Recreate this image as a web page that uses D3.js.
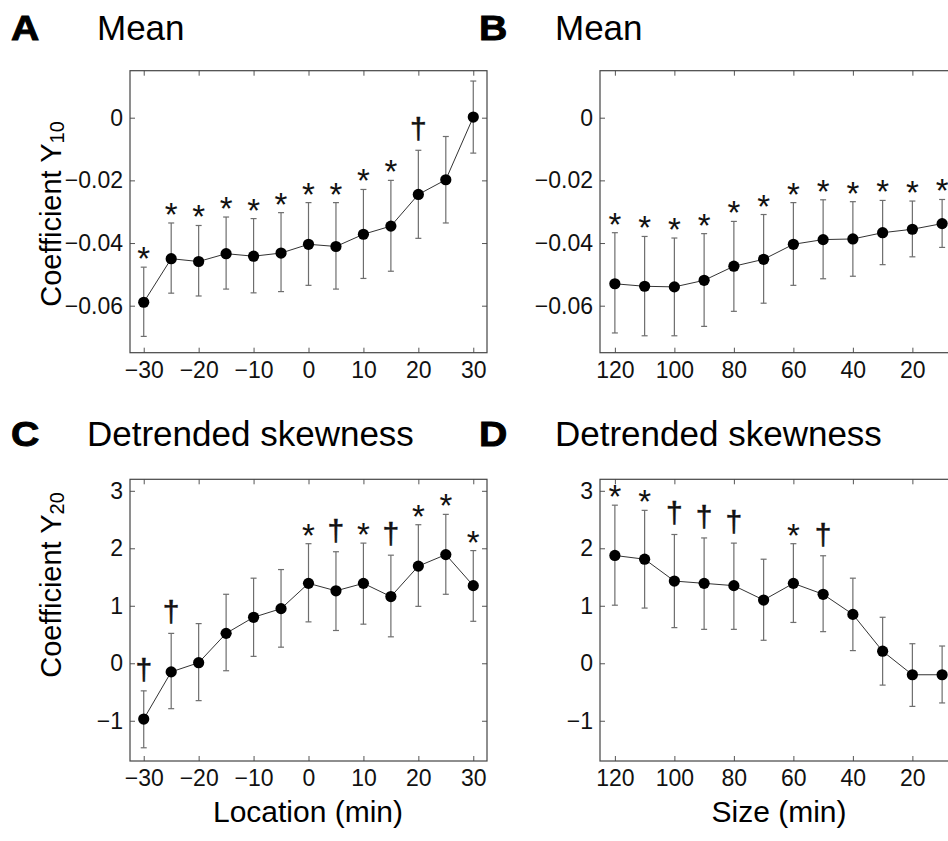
<!DOCTYPE html>
<meta charset="utf-8">
<script src="https://d3js.org/d3.v7.min.js"></script>
<style>
body { margin: 0; background: #fff; }
text { font-family: "Liberation Sans", Arial, sans-serif; }
</style>
<div id="fig"></div>
<script>

// x positions
var locX  = [-30, -25, -20, -15, -10, -5, 0, 5, 10, 15, 20, 25, 30];
var sizeX = [120, 110, 100, 90, 80, 70, 60, 50, 40, 30, 20, 10];

// A: mean vs location
var meanLoc   = [-0.0589, -0.0450, -0.0459, -0.0434, -0.0442, -0.0432, -0.0404, -0.0411, -0.0372, -0.0346, -0.0245, -0.0198, 0.0002];
var meanLocHi = [-0.0477, -0.0336, -0.0344, -0.0317, -0.0322, -0.0303, -0.0271, -0.0271, -0.0229, -0.0200, -0.0104, -0.0060, 0.0117];
var meanLocLo = [-0.0698, -0.0560, -0.0569, -0.0547, -0.0559, -0.0555, -0.0535, -0.0547, -0.0513, -0.0490, -0.0385, -0.0336, -0.0113];
var meanLocSig = ["*", "*", "*", "*", "*", "*", "*", "*", "*", "*", "†", "", ""];

// B: mean vs size
var meanSize   = [-0.0530, -0.0538, -0.0540, -0.0519, -0.0474, -0.0452, -0.0404, -0.0389, -0.0387, -0.0367, -0.0356, -0.0338];
var meanSizeHi = [-0.0367, -0.0379, -0.0384, -0.0370, -0.0331, -0.0309, -0.0271, -0.0262, -0.0268, -0.0264, -0.0266, -0.0261];
var meanSizeLo = [-0.0687, -0.0696, -0.0696, -0.0666, -0.0618, -0.0592, -0.0535, -0.0514, -0.0506, -0.0469, -0.0444, -0.0414];
var meanSizeSig = ["*", "*", "*", "*", "*", "*", "*", "*", "*", "*", "*", "*"];

// C: detrended skewness vs location
var skewLoc   = [-0.97, -0.15, 0.01, 0.52, 0.80, 0.95, 1.39, 1.26, 1.39, 1.16, 1.69, 1.89, 1.35];
var skewLocHi = [-0.48, 0.52, 0.69, 1.20, 1.48, 1.63, 2.08, 1.94, 2.09, 1.88, 2.41, 2.59, 1.96];
var skewLocLo = [-1.47, -0.79, -0.65, -0.13, 0.12, 0.28, 0.72, 0.57, 0.68, 0.46, 0.99, 1.20, 0.73];
var skewLocSig = ["†", "†", "", "", "", "", "*", "†", "*", "†", "*", "*", "*"];

// D: detrended skewness vs size
var skewSize   = [1.875, 1.81, 1.43, 1.39, 1.35, 1.10, 1.39, 1.20, 0.85, 0.21, -0.20, -0.20];
var skewSizeHi = [2.75, 2.66, 2.24, 2.18, 2.09, 1.81, 2.08, 1.87, 1.48, 0.80, 0.34, 0.30];
var skewSizeLo = [1.01, 0.96, 0.62, 0.59, 0.59, 0.40, 0.71, 0.55, 0.22, -0.38, -0.75, -0.69];
var skewSizeSig = ["*", "*", "†", "†", "†", "", "*", "†", "", "", "", ""];

// tick labels
var locTicks = [-30, -20, -10, 0, 10, 20, 30];
var sizeTicks = [120, 100, 80, 60, 40, 20];
var meanTicks = [-0.06, -0.04, -0.02, 0];
var skewTicks = [-1, 0, 1, 2, 3];

var W = 948, H = 841;

var svg = d3.select("#fig")
  .append("svg")
    .attr("width", W)
    .attr("height", H)
    .style("display", "block");

svg.append("rect").attr("width", W).attr("height", H).attr("fill", "#fff");

function fmtMean(d) { return d === 0 ? "0" : d3.format(".2f")(d); }

function drawPanel(p) {
  var x = d3.scaleLinear().domain(p.xDomain).range([p.left, p.right]);
  var y = d3.scaleLinear().domain(p.yDomain).range([p.bottom, p.top]);
  var g = svg.append("g");

  // panel letter and title
  g.append("text")
    .attr("transform", "translate(" + p.letterX + "," + p.titleY + ") scale(1.12,1)")
    .attr("font-size", 35)
    .attr("font-weight", "bold")
    .attr("stroke", "#000")
    .attr("stroke-width", 0.9)
    .text(p.letter);
  g.append("text")
    .attr("x", p.titleX)
    .attr("y", p.titleY)
    .attr("font-size", 35)
    .text(p.title);

  // axes, ticks pointing inwards
  var bottom = g.append("g")
    .attr("transform", "translate(0," + p.bottom + ")")
    .call(d3.axisBottom(x).tickValues(p.xTicks).tickSizeInner(-5).tickSizeOuter(0).tickPadding(9)
      .tickFormat(d3.format("d")));
  var top = g.append("g")
    .attr("transform", "translate(0," + p.top + ")")
    .call(d3.axisTop(x).tickValues(p.xTicks).tickSizeInner(-5).tickSizeOuter(0).tickFormat(""));
  var left = g.append("g")
    .attr("transform", "translate(" + p.left + ",0)")
    .call(d3.axisLeft(y).tickValues(p.yTicks).tickSizeInner(-5).tickSizeOuter(0).tickPadding(7)
      .tickFormat(p.yFormat));
  var right = g.append("g")
    .attr("transform", "translate(" + p.right + ",0)")
    .call(d3.axisRight(y).tickValues(p.yTicks).tickSizeInner(-5).tickSizeOuter(0).tickFormat(""));

  [bottom, top, left, right].forEach(function(a) {
    a.attr("font-size", 23).attr("font-family", "Liberation Sans, Arial, sans-serif");
    a.select(".domain").remove();
    a.selectAll("line").attr("stroke", "#555");
    a.selectAll("text").attr("fill", "#111");
  });

  // box
  g.append("rect")
    .attr("x", p.left)
    .attr("y", p.top)
    .attr("width", p.right - p.left)
    .attr("height", p.bottom - p.top)
    .attr("fill", "none")
    .attr("stroke", "#444")
    .attr("stroke-width", 1.2);

  var data = p.xs.map(function(v, i) {
    return {x: v, y: p.ys[i], hi: p.hi[i], lo: p.lo[i], sig: p.sig[i]};
  });

  // error bars
  var eb = g.selectAll(".eb").data(data).enter().append("g")
    .attr("stroke", "#6e6e6e")
    .attr("stroke-width", 1.2);
  eb.append("line")
    .attr("x1", function(d) { return x(d.x); })
    .attr("x2", function(d) { return x(d.x); })
    .attr("y1", function(d) { return y(d.hi); })
    .attr("y2", function(d) { return y(d.lo); });
  eb.append("line")
    .attr("x1", function(d) { return x(d.x) - 3; })
    .attr("x2", function(d) { return x(d.x) + 3; })
    .attr("y1", function(d) { return y(d.hi); })
    .attr("y2", function(d) { return y(d.hi); });
  eb.append("line")
    .attr("x1", function(d) { return x(d.x) - 3; })
    .attr("x2", function(d) { return x(d.x) + 3; })
    .attr("y1", function(d) { return y(d.lo); })
    .attr("y2", function(d) { return y(d.lo); });

  // line
  g.append("path")
    .datum(data)
    .attr("fill", "none")
    .attr("stroke", "#333")
    .attr("stroke-width", 1)
    .attr("d", d3.line().x(function(d) { return x(d.x); }).y(function(d) { return y(d.y); }));

  // points
  g.selectAll(".pt").data(data).enter().append("circle")
    .attr("cx", function(d) { return x(d.x); })
    .attr("cy", function(d) { return y(d.y); })
    .attr("r", 5.6)
    .attr("fill", "#000");

  // significance markers
  g.selectAll(".sig").data(data.filter(function(d) { return d.sig; })).enter().append("text")
    .attr("x", function(d) { return x(d.x); })
    .attr("y", function(d) { return d.sig === "*" ? y(d.hi) + 3 : y(d.hi) - 11; })
    .attr("text-anchor", "middle")
    .attr("font-family", "Liberation Serif, Times New Roman, serif")
    .attr("font-size", function(d) { return d.sig === "*" ? 33 : 30; })
    .attr("stroke", "#111")
    .attr("stroke-width", function(d) { return d.sig === "*" ? 0 : 0.5; })
    .attr("fill", "#111")
    .text(function(d) { return d.sig; });

  // y label
  if (p.yLabel) {
    var yl = g.append("text")
      .attr("transform", "translate(61," + p.yLabelY + ") rotate(-90)")
      .attr("text-anchor", "middle")
      .attr("font-size", 29);
    yl.append("tspan").text("Coefficient Y");
    yl.append("tspan").attr("font-size", 20).attr("dy", 3).text(p.yLabel);
  }
  if (p.xLabel) {
    g.append("text")
      .attr("x", p.xLabelX)
      .attr("y", 822)
      .attr("text-anchor", "middle")
      .attr("font-size", 30)
      .text(p.xLabel);
  }
}

drawPanel({letter: "A", title: "Mean", letterX: 11, titleX: 97, titleY: 40,
  left: 130, right: 487, top: 70.7, bottom: 352.7,
  xDomain: [-32.5, 32.5], yDomain: [-0.075, 0.015],
  xTicks: locTicks, yTicks: meanTicks, yFormat: fmtMean,
  xs: locX, ys: meanLoc, hi: meanLocHi, lo: meanLocLo, sig: meanLocSig,
  yLabel: "10", yLabelY: 214});

drawPanel({letter: "B", title: "Mean", letterX: 479, titleX: 555, titleY: 40,
  left: 600, right: 957, top: 70.7, bottom: 352.7,
  xDomain: [125, 5], yDomain: [-0.075, 0.015],
  xTicks: sizeTicks, yTicks: meanTicks, yFormat: fmtMean,
  xs: sizeX, ys: meanSize, hi: meanSizeHi, lo: meanSizeLo, sig: meanSizeSig});

drawPanel({letter: "C", title: "Detrended skewness", letterX: 11, titleX: 87, titleY: 446,
  left: 130, right: 487, top: 479.3, bottom: 761,
  xDomain: [-32.5, 32.5], yDomain: [-1.7, 3.2],
  xTicks: locTicks, yTicks: skewTicks, yFormat: d3.format("d"),
  xs: locX, ys: skewLoc, hi: skewLocHi, lo: skewLocLo, sig: skewLocSig,
  yLabel: "20", yLabelY: 585, xLabel: "Location (min)", xLabelX: 308});

drawPanel({letter: "D", title: "Detrended skewness", letterX: 479, titleX: 555, titleY: 446,
  left: 600, right: 957, top: 479.3, bottom: 761,
  xDomain: [125, 5], yDomain: [-1.7, 3.2],
  xTicks: sizeTicks, yTicks: skewTicks, yFormat: d3.format("d"),
  xs: sizeX, ys: skewSize, hi: skewSizeHi, lo: skewSizeLo, sig: skewSizeSig,
  xLabel: "Size (min)", xLabelX: 779});

</script>
